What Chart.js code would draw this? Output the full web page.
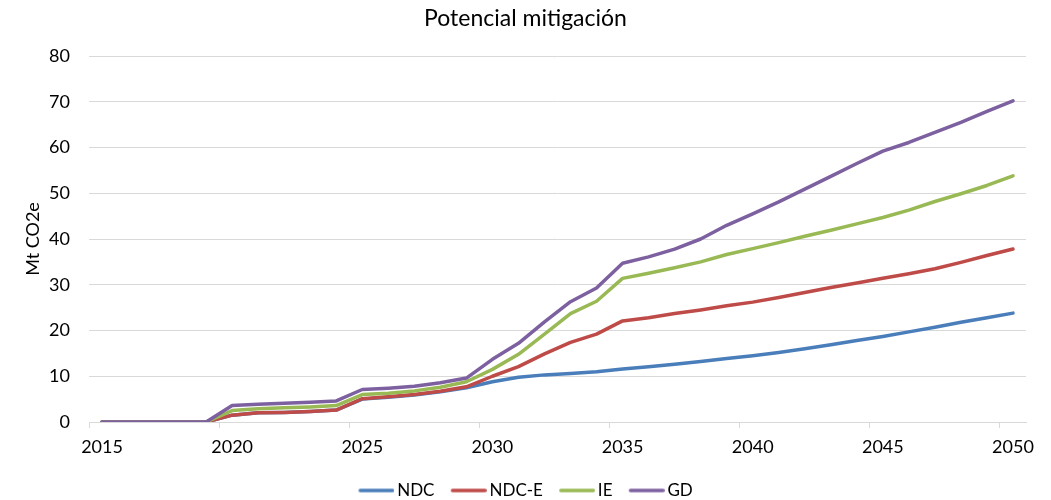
<!DOCTYPE html>
<html>
<head>
<meta charset="utf-8">
<script src="https://cdn.jsdelivr.net/npm/chart.js@4"></script>
<style>
  html, body { margin: 0; padding: 0; background: #fff; }
  #wrap { width: 1051px; height: 500px; }
</style>
</head>
<body>
<div id="wrap"><canvas id="c" width="1051" height="500"></canvas></div>
<script>
// Years on the category axis
const years = [2015, 2016, 2017, 2018, 2019, 2020, 2021, 2022, 2023, 2024, 2025, 2026,
  2027, 2028, 2029, 2030, 2031, 2032, 2033, 2034, 2035, 2036, 2037, 2038,
  2039, 2040, 2041, 2042, 2043, 2044, 2045, 2046, 2047, 2048, 2049, 2050];

// Mitigation potential per scenario, Mt CO2e
const ndc  = [0, 0, 0, 0, 0, 1.5, 2.0, 2.1, 2.3, 2.6, 5.0, 5.4, 5.9, 6.6, 7.5,
  8.8, 9.8, 10.3, 10.6, 11.0, 11.6, 12.1, 12.6, 13.2, 13.9, 14.5, 15.2, 16.0,
  16.9, 17.8, 18.7, 19.7, 20.7, 21.8, 22.8, 23.8];
const ndcE = [0, 0, 0, 0, 0, 1.5, 2.0, 2.1, 2.3, 2.6, 5.1, 5.5, 6.0, 6.7, 7.7,
  10.0, 12.1, 14.9, 17.4, 19.2, 22.1, 22.8, 23.7, 24.5, 25.4, 26.2, 27.2, 28.3,
  29.4, 30.4, 31.4, 32.4, 33.5, 34.9, 36.4, 37.8];
const ie   = [0, 0, 0, 0, 0, 2.5, 2.9, 3.1, 3.3, 3.6, 6.0, 6.3, 6.8, 7.6, 8.8,
  11.5, 14.8, 19.2, 23.7, 26.4, 31.4, 32.5, 33.7, 35.0, 36.6, 37.9, 39.2, 40.6,
  41.9, 43.3, 44.7, 46.3, 48.2, 49.9, 51.7, 53.8];
const gd   = [0, 0, 0, 0, 0, 3.6, 3.9, 4.1, 4.3, 4.6, 7.1, 7.4, 7.8, 8.6, 9.6,
  13.7, 17.2, 21.9, 26.3, 29.3, 34.7, 36.1, 37.8, 40.0, 43.0, 45.5, 48.1, 50.9,
  53.7, 56.5, 59.2, 61.1, 63.3, 65.5, 67.9, 70.2];

const seriesNames = ['NDC', 'NDC-E', 'IE', 'GD'];
const seriesColors = ['#4a7ebb', '#be4b48', '#98b954', '#7d60a0'];

// Legend geometry
const LEGEND_FONT = 17;
const LEGEND_PAD = 16;
const SWATCH_LEN = 36;
const BOX_W = SWATCH_LEN - LEGEND_FONT / 2 + 3;

// Short line swatch used as the legend marker; drawn so it ends just before the text
function swatch(color) {
  const half = BOX_W / 2 + LEGEND_FONT / 2 - 3;
  const w = Math.round(half * 2);
  const c = document.createElement('canvas');
  c.width = w; c.height = 8;
  const g = c.getContext('2d');
  g.strokeStyle = color;
  g.lineWidth = 3.5;
  g.lineCap = 'round';
  g.beginPath();
  g.moveTo(w - SWATCH_LEN + 1.75, 4);
  g.lineTo(w - 1.75, 4);
  g.stroke();
  return c;
}

Chart.defaults.font.family = 'Lato, "Open Sans", sans-serif';
Chart.defaults.color = '#000';

const values = [ndc, ndcE, ie, gd];
const datasets = values.map((v, i) => ({
  label: seriesNames[i],
  data: v,
  borderColor: seriesColors[i],
  backgroundColor: seriesColors[i],
  borderWidth: 3.5,
  borderJoinStyle: 'round',
  borderCapStyle: 'round',
  pointRadius: 0,
  pointHoverRadius: 0,
  pointStyle: swatch(seriesColors[i]),
  tension: 0,
  fill: false,
  order: values.length - 1 - i
}));

const GRID = '#d9d9d9';

new Chart(document.getElementById('c'), {
  type: 'line',
  data: { labels: years.map(String), datasets },
  options: {
    responsive: false,
    animation: false,
    events: [],
    layout: { padding: { left: 0, right: 0, top: 0, bottom: -9 } },
    plugins: {
      title: {
        display: true,
        text: 'Potencial mitigación',
        font: { size: 23, weight: 'normal' },
        color: '#000',
        padding: { top: 5, bottom: 23.4 }
      },
      legend: {
        position: 'bottom',
        labels: {
          usePointStyle: true,
          pointStyleWidth: BOX_W,
          boxHeight: LEGEND_FONT,
          padding: LEGEND_PAD,
          font: { size: LEGEND_FONT },
          color: '#000',
          sort: (a, b) => a.datasetIndex - b.datasetIndex
        }
      },
      tooltip: { enabled: false }
    },
    scales: {
      x: {
        type: 'category',
        offset: true,
        afterFit: s => { s.height = 44; },
        grid: {
          offset: true,
          drawOnChartArea: false,
          tickLength: 6,
          color: ctx => (ctx.index !== undefined && years[ctx.index] % 5 === 0) ? GRID : 'rgba(0,0,0,0)'
        },
        border: { display: true, color: GRID, width: 1 },
        ticks: {
          autoSkip: false,
          maxRotation: 0,
          minRotation: 0,
          padding: 8,
          font: { size: 18 },
          color: '#000',
          callback: (val, idx) => (years[idx] % 5 === 0 ? String(years[idx]) : '')
        }
      },
      y: {
        min: 0,
        max: 80,
        afterFit: s => { s.width = 89; },
        grid: { color: GRID, drawTicks: false },
        border: { display: false },
        ticks: {
          stepSize: 10,
          padding: 19,
          font: { size: 18 },
          color: '#000'
        },
        title: {
          display: true,
          text: 'Mt CO2e',
          font: { size: 18 },
          color: '#000',
          padding: { top: 22, bottom: 0 }
        }
      },
      // empty right-hand margin box so the plot stops short of the canvas edge
      yRight: {
        position: 'right',
        display: true,
        afterFit: s => { s.width = 25; },
        grid: { display: false, drawTicks: false },
        border: { display: false },
        ticks: { display: false }
      }
    }
  }
});
</script>
</body>
</html>
